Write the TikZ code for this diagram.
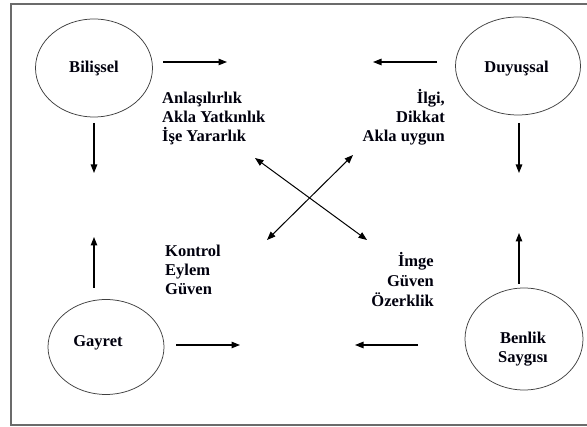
\documentclass[tikz,border=0pt]{standalone}
\usepackage{fontspec}
\setmainfont{Liberation Serif}
\usetikzlibrary{arrows.meta,shapes.geometric}

\begin{document}
\begin{tikzpicture}[x=1pt,y=-1pt,
  frame/.style={draw=black!58, line width=1.3pt},
  bubble/.style={draw=black!75, line width=0.75pt, ellipse, inner sep=0pt},
  lbl/.style={font=\bfseries\fontsize{16.5}{19.4}\selectfont, inner sep=0pt, text=black!95!blue},
  arr/.style={-{Triangle[length=8.5pt,width=6.5pt]}, line width=1.1pt},
  dbl/.style={{Triangle[length=8.5pt,width=6.5pt]}-{Triangle[length=8.5pt,width=6.5pt]}, line width=1pt}
]
\useasboundingbox (0,0) rectangle (587,427);

% outer frame (open on the right)
\draw[frame] (587,4) -- (11,4) -- (11,425) -- (587,425);

% the four ellipses
\node[bubble, minimum width=117pt, minimum height=98pt] (bil) at (94,68) {};
\node[bubble, minimum width=125pt, minimum height=98pt] (duy) at (518,66) {};
\node[bubble, minimum width=116pt, minimum height=95pt] (gay) at (106,347) {};
\node[bubble, minimum width=118pt, minimum height=102pt] (ben) at (524,339) {};

% ellipse captions (base anchor = baseline of the last line)
\node[lbl, anchor=base] (bilT) at (94,73) {Bilişsel};
\node[lbl, anchor=base] (duyT) at (516.5,73) {Duyuşsal};
\node[lbl, anchor=base] (gayT) at (98,347) {Gayret};
\node[lbl, anchor=base, align=center] (benT) at (523,363) {Benlik\\Saygısı};

% middle word groups
\node[lbl, anchor=base west, align=left] (anl) at (162,142) {Anlaşılırlık\\Akla Yatkınlık\\İşe Yararlık};
\node[lbl, anchor=base east, align=right] (ilg) at (445,142) {İlgi,\\Dikkat\\Akla uygun};
\node[lbl, anchor=base west, align=left] (kon) at (165,295) {Kontrol\\Eylem\\Güven};
\node[lbl, anchor=base east, align=right, font=\bfseries\fontsize{16.5}{20}\selectfont] (img) at (434,307) {İmge\\Güven\\Özerklik};

% arrow end points
\coordinate (bilR0) at (163,62);   \coordinate (bilR1) at (227,62);
\coordinate (duyL0) at (437,62);   \coordinate (duyL1) at (373,62);
\coordinate (bilD0) at (94,123);   \coordinate (bilD1) at (94,173);
\coordinate (duyD0) at (519,123);  \coordinate (duyD1) at (519,173);
\coordinate (gayU0) at (94,288);   \coordinate (gayU1) at (94,237);
\coordinate (benU0) at (519,284);  \coordinate (benU1) at (519,233);
\coordinate (gayR0) at (176,345);  \coordinate (gayR1) at (240,345);
\coordinate (benL0) at (418,345);  \coordinate (benL1) at (355,345);
\coordinate (xa) at (255,158);     \coordinate (xb) at (367,240);
\coordinate (xc) at (353,155);     \coordinate (xd) at (267,240);

% straight arrows
\draw[arr] (bilR0) -- (bilR1);
\draw[arr] (duyL0) -- (duyL1);
\draw[arr] (bilD0) -- (bilD1);
\draw[arr] (duyD0) -- (duyD1);
\draw[arr] (gayU0) -- (gayU1);
\draw[arr] (benU0) -- (benU1);
\draw[arr] (gayR0) -- (gayR1);
\draw[arr] (benL0) -- (benL1);

% crossing double arrows
\draw[dbl] (xa) -- (xb);
\draw[dbl] (xc) -- (xd);
\end{tikzpicture}
\end{document}
